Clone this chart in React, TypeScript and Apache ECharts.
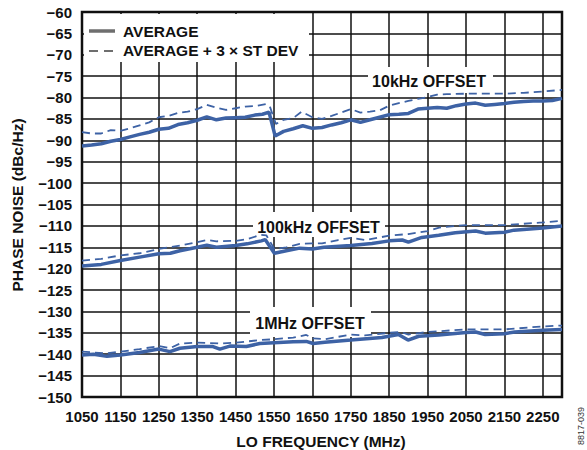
import React, { useEffect, useRef } from "react";
import * as echarts from "echarts";

// LO frequency (MHz) vs phase noise (dBc/Hz)
const avg10k: number[][] = [
  [1050, -91.3], [1075, -91.1], [1100, -90.8], [1125, -90.2], [1150, -89.8], [1175, -89.2],
  [1200, -88.6], [1225, -88.1], [1250, -87.4], [1275, -87.2], [1300, -86.3], [1325, -85.9],
  [1350, -85.3], [1375, -84.5], [1400, -85.2], [1425, -84.8], [1450, -84.7], [1475, -84.6],
  [1500, -84.1], [1520, -83.9], [1537, -83.4], [1553, -89.0], [1575, -87.9], [1600, -87.3],
  [1625, -86.6], [1650, -87.2], [1675, -87.0], [1700, -86.4], [1725, -85.9], [1750, -85.2],
  [1775, -85.8], [1800, -85.2], [1825, -84.6], [1850, -84.0], [1875, -83.9], [1900, -83.7],
  [1925, -82.7], [1950, -82.5], [1975, -82.3], [2000, -82.5], [2025, -81.9], [2050, -81.5],
  [2075, -81.3], [2100, -81.8], [2125, -81.6], [2150, -81.4], [2175, -81.1], [2200, -80.9],
  [2225, -80.8], [2250, -80.8], [2275, -80.7], [2300, -80.2],
];
const dev10k: number[][] = [
  [1050, -88.1], [1075, -88.4], [1100, -88.4], [1125, -87.6], [1150, -87.8], [1175, -87.2],
  [1200, -86.5], [1225, -85.8], [1250, -84.6], [1275, -84.3], [1300, -83.6], [1325, -83.3],
  [1350, -82.7], [1375, -81.7], [1400, -82.4], [1425, -82.9], [1450, -82.5], [1475, -82.1],
  [1500, -82.0], [1530, -81.5], [1540, -82.3], [1555, -86.2], [1575, -85.2], [1600, -84.8],
  [1622, -83.3], [1650, -84.6], [1675, -85.0], [1700, -84.3], [1725, -83.5], [1750, -82.7],
  [1775, -83.5], [1800, -83.3], [1825, -83.0], [1850, -81.9], [1875, -81.3], [1900, -80.8],
  [1925, -80.3], [1950, -79.9], [1975, -79.3], [2000, -79.2], [2050, -79.1], [2100, -79.1],
  [2150, -79.1], [2200, -78.9], [2250, -78.6], [2300, -78.2],
];
const avg100k: number[][] = [
  [1050, -119.4], [1100, -119.0], [1150, -118.1], [1200, -117.3], [1250, -116.5], [1280, -116.4],
  [1305, -115.8], [1350, -115.0], [1375, -114.5], [1400, -115.0], [1450, -114.6], [1480, -114.2],
  [1517, -113.5], [1527, -113.2], [1551, -116.4], [1582, -115.8], [1617, -115.2], [1650, -115.4],
  [1680, -115.0], [1750, -114.6], [1805, -114.1], [1850, -113.5], [1884, -113.3], [1900, -113.8],
  [1935, -112.7], [1979, -112.2], [2022, -111.6], [2075, -111.2], [2100, -111.7], [2150, -111.5],
  [2175, -111.0], [2250, -110.5], [2300, -110.0],
];
const dev100k: number[][] = [
  [1050, -118.1], [1100, -117.7], [1150, -116.9], [1200, -116.4], [1250, -115.4], [1305, -114.6],
  [1350, -113.8], [1375, -113.3], [1400, -113.6], [1450, -113.5], [1480, -113.1], [1515, -112.1],
  [1530, -112.2], [1551, -115.4], [1582, -115.0], [1617, -114.2], [1650, -114.1], [1675, -114.1],
  [1717, -113.3], [1750, -112.8], [1787, -113.3], [1850, -112.3], [1900, -111.9], [1950, -111.2],
  [1980, -110.4], [2050, -109.8], [2150, -109.8], [2250, -109.2], [2300, -108.8],
];
const avg1M: number[][] = [
  [1050, -140.2], [1080, -140.0], [1115, -140.5], [1150, -140.2], [1200, -139.6], [1250, -138.8],
  [1279, -139.4], [1305, -138.6], [1350, -138.2], [1391, -138.2], [1409, -138.8], [1435, -138.1],
  [1478, -138.2], [1513, -137.5], [1550, -137.3], [1600, -137.1], [1634, -137.0], [1652, -137.5],
  [1682, -137.2], [1750, -136.7], [1831, -136.1], [1874, -135.4], [1899, -136.7], [1927, -135.8],
  [1979, -135.5], [2050, -134.9], [2075, -134.8], [2100, -135.4], [2150, -135.2], [2177, -134.8],
  [2250, -134.4], [2300, -134.2],
];
const dev1M: number[][] = [
  [1050, -139.4], [1115, -139.8], [1150, -139.4], [1200, -138.8], [1250, -138.1], [1279, -138.6],
  [1305, -137.5], [1350, -137.3], [1409, -137.5], [1450, -137.3], [1513, -136.7], [1550, -136.5],
  [1600, -136.1], [1634, -135.5], [1652, -136.3], [1682, -136.5], [1750, -135.4], [1787, -135.6],
  [1850, -135.0], [1880, -134.8], [1900, -135.4], [1950, -134.8], [2050, -134.2], [2150, -134.2],
  [2250, -133.5], [2300, -133.3],
];

const legendNames = ["AVERAGE", "AVERAGE + 3 × ST DEV"];
const offsetLabels = ["10kHz OFFSET", "100kHz OFFSET", "1MHz OFFSET"];
const xTitle = "LO FREQUENCY (MHz)";
const yTitle = "PHASE NOISE (dBc/Hz)";
const figId = "8817-039";

const FONT = "'Liberation Sans', Arial, Helvetica, sans-serif";
const BLUE = "#3d62a5";
const GRAY = "#6e6e6e";

export default function App() {
  const ref = useRef<HTMLDivElement>(null);
  useEffect(() => {
    if (!ref.current) return;
    const chart = echarts.init(ref.current, undefined, { renderer: "svg" });
    const solid = (data: number[][]) => ({
      type: "line",
      data,
      showSymbol: false,
      symbol: "none",
      lineStyle: { color: BLUE, width: 3.5 },
      z: 3,
    });
    const dashed = (data: number[][]) => ({
      type: "line",
      data,
      showSymbol: false,
      symbol: "none",
      lineStyle: { color: BLUE, width: 1.8, type: [8, 5] },
      z: 3,
    });
    const box = (x: number, y: number, w: number, h: number) => ({
      type: "rect",
      shape: { x, y, width: w, height: h },
      style: { fill: "#fff" },
      z: 1,
    });
    const label = (text: string, x: number, y: number, size = 16, extra: any = {}) => ({
      type: "text",
      x,
      y,
      z: 2,
      ...extra,
      style: {
        text,
        fill: "#111",
        font: `bold ${size}px ${FONT}`,
        align: extra.align || "center",
        verticalAlign: "middle",
      },
    });
    chart.setOption({
      animation: false,
      grid: {
        left: 82,
        right: 25,
        top: 12,
        bottom: 53,
        show: true,
        borderColor: "#111",
        borderWidth: 2.5,
        backgroundColor: "transparent",
      },
      xAxis: {
        type: "value",
        min: 1050,
        max: 2300,
        interval: 100,
        axisLine: { show: false },
        axisTick: { show: false },
        splitLine: { show: true, lineStyle: { color: "#111", width: 1.5 } },
        axisLabel: {
          margin: 12,
          color: "#111",
          fontFamily: FONT,
          fontWeight: "bold",
          fontSize: 15,
          formatter: (v: number) => (v > 2250 ? "" : String(v)),
        },
      },
      yAxis: {
        type: "value",
        min: -150,
        max: -60,
        interval: 5,
        axisLine: { show: false },
        axisTick: { show: false },
        splitLine: { show: true, lineStyle: { color: "#111", width: 1.5 } },
        axisLabel: {
          margin: 10,
          color: "#111",
          fontFamily: FONT,
          fontWeight: "bold",
          fontSize: 15,
          formatter: (v: number) => String(v).replace("-", "\u2212"),
        },
      },
      series: [
        solid(avg10k),
        dashed(dev10k),
        solid(avg100k),
        dashed(dev100k),
        solid(avg1M),
        dashed(dev1M),
      ],
      graphic: [
        // legend box
        box(84, 14, 225, 48),
        {
          type: "line",
          z: 2,
          shape: { x1: 89, y1: 31, x2: 115, y2: 31 },
          style: { stroke: GRAY, lineWidth: 3.5 },
        },
        {
          type: "line",
          z: 2,
          shape: { x1: 89, y1: 51, x2: 115, y2: 51 },
          style: { stroke: GRAY, lineWidth: 1.8, lineDash: [9, 6] },
        },
        label(legendNames[0], 123, 31, 15.5, { align: "left" }),
        label(legendNames[1], 123, 50.5, 15.5, { align: "left" }),
        // offset labels
        box(368, 67, 125, 26),
        label(offsetLabels[0], 429, 81.5),
        box(253, 212, 132, 25),
        label(offsetLabels[1], 318.5, 227.5),
        box(250, 307, 121, 30),
        label(offsetLabels[2], 310, 323.5),
        // axis titles
        label(xTitle, 321, 441, 15.5),
        label(yTitle, 17, 205, 15.5, { rotation: Math.PI / 2 }),
        {
          type: "text",
          x: 581,
          y: 426,
          rotation: Math.PI / 2,
          z: 2,
          style: {
            text: figId,
            fill: "#333",
            font: `9px ${FONT}`,
            align: "center",
            verticalAlign: "middle",
          },
        },
      ],
    });
    return () => chart.dispose();
  }, []);
  return (
    <div
      ref={ref}
      style={{ position: "fixed", left: 0, top: 0, width: 587, height: 450, background: "#fff" }}
    />
  );
}
